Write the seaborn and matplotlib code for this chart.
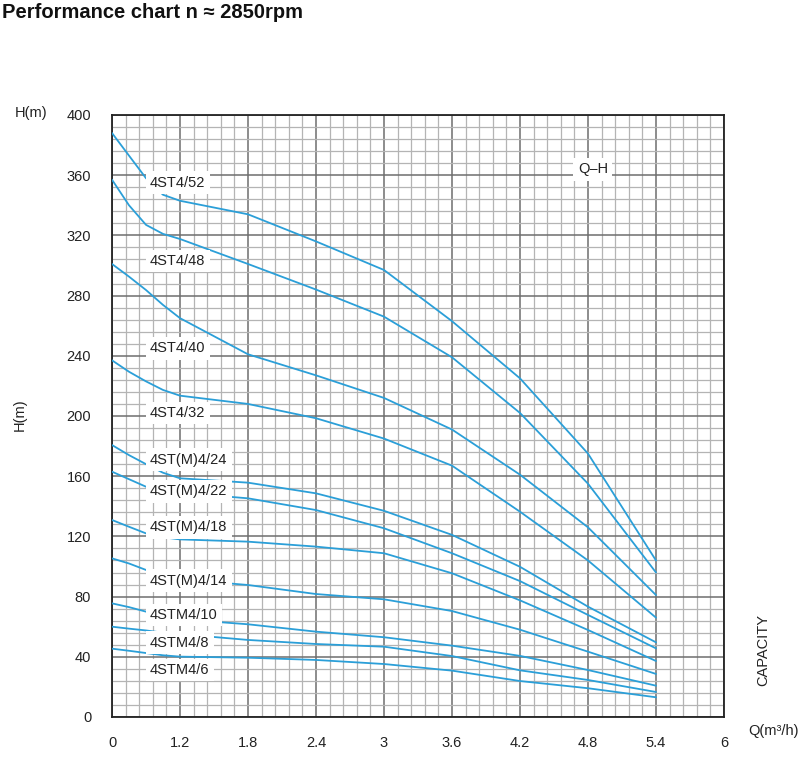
"""
Pump performance chart (Q-H curves), n ~ 2850 rpm
"""

import numpy as np
import pandas as pd
import matplotlib
matplotlib.use("Agg")
import matplotlib.pyplot as plt
from matplotlib.ticker import FixedLocator, MultipleLocator
import seaborn as sns

# ---- data ----
Q_TICKS = [0, 1.2, 1.8, 2.4, 3, 3.6, 4.2, 4.8, 5.4, 6]
Q_TICK_LABELS = ["0", "1.2", "1.8", "2.4", "3", "3.6", "4.2", "4.8", "5.4", "6"]

q = [0, 0.3, 0.6, 0.9, 1.2, 1.8, 2.4, 3.0, 3.6, 4.2, 4.8, 5.4]

h_4st4_52 = [388, 373, 358, 347, 343, 334, 316, 297, 263, 225, 175, 104]
h_4st4_48 = [357, 340, 327, 321, 317.6, 301, 284, 266, 239, 202, 155, 96]
h_4st4_40 = [301, 292.6, 283.7, 273.8, 265, 241, 227, 212, 191, 161, 126, 81]
h_4st4_32 = [237, 229.4, 223, 217.3, 213.5, 208, 198.5, 185, 167, 136.4, 104, 66]
h_4stm4_24 = [180.7, 174, 168, 162.3, 158.6, 155.7, 148.6, 137, 121, 99.8, 73.3, 49.6]
h_4stm4_22 = [163, 158, 153, 150.5, 149, 145.3, 137.5, 125.4, 108.8, 90.3, 67.8, 45.6]
h_4stm4_18 = [130.9, 126.4, 122, 119.4, 118, 116.5, 113.2, 108.8, 95.5, 77.5, 57.8, 37.2]
h_4stm4_14 = [105.4, 102, 97.7, 94, 91.5, 87.7, 81.7, 78.2, 70.4, 58, 43.4, 28.6]
h_4stm4_10 = [75.5, 73, 70, 67, 65, 61.6, 56.7, 53, 47.4, 40.6, 31.2, 20.8]
h_4stm4_8 = [60, 58.7, 57.5, 56, 55.1, 51.2, 48.5, 46.7, 40.5, 31, 24.6, 16.6]
h_4stm4_6 = [45.4, 44, 42.5, 41, 40.1, 39.4, 37.9, 35.2, 30.8, 23.9, 19.1, 13.1]

models = ["4ST4/52", "4ST4/48", "4ST4/40", "4ST4/32", "4ST(M)4/24", "4ST(M)4/22",
          "4ST(M)4/18", "4ST(M)4/14", "4STM4/10", "4STM4/8", "4STM4/6"]
heads = [h_4st4_52, h_4st4_48, h_4st4_40, h_4st4_32, h_4stm4_24, h_4stm4_22,
         h_4stm4_18, h_4stm4_14, h_4stm4_10, h_4stm4_8, h_4stm4_6]

# label anchors (Q, H) for each curve name
label_q = 0.67
label_h = [355, 303, 245, 202, 171, 150, 126, 90.6, 67.8, 49.4, 31.2]

CURVE_COLOR = "#2b9fd8"

# build long table for seaborn
rows = []
for name, h in zip(models, heads):
    for qq, hh in zip(q, h):
        rows.append({"model": name, "Q": qq, "H": hh})
df = pd.DataFrame(rows)

# ---- styling ----
sns.set_style("white")
plt.rcParams["font.family"] = ["Liberation Sans", "DejaVu Sans"]

fig = plt.figure(figsize=(8, 7.63), dpi=100)
ax = fig.add_axes([0.14, 0.0603, 0.765, 0.789])

# x axis is evenly spaced per tick, but first step spans 0..1.2
tick_pos = np.arange(len(Q_TICKS), dtype=float)


def fwd(x):
    return np.interp(x, Q_TICKS, tick_pos)


def inv(p):
    return np.interp(p, tick_pos, Q_TICKS)


ax.set_xscale("function", functions=(fwd, inv))

sns.lineplot(
    data=df, x="Q", y="H", hue="model", hue_order=models,
    palette=[CURVE_COLOR] * len(models), estimator=None, sort=False,
    legend=False, linewidth=1.3, ax=ax, zorder=3,
)

ax.set_xlim(0, 6)
ax.set_ylim(0, 400)

ax.xaxis.set_major_locator(FixedLocator(Q_TICKS))
ax.xaxis.set_minor_locator(FixedLocator(inv(np.arange(0, 9.01, 0.2))))
ax.set_xticklabels(Q_TICK_LABELS)
ax.yaxis.set_major_locator(MultipleLocator(40))
ax.yaxis.set_minor_locator(MultipleLocator(8))

ax.grid(which="minor", color="#b4b4b4", linewidth=0.9, zorder=0)
ax.grid(which="major", color="#6e6e6e", linewidth=1.1, zorder=0)
ax.set_axisbelow(True)

ax.tick_params(axis="y", which="major", length=12, width=1, color="#444444",
               pad=3, labelsize=10.5, labelcolor="#222222")
ax.tick_params(axis="x", which="major", length=0, pad=14, labelsize=10.5,
               labelcolor="#222222")
ax.tick_params(which="minor", length=0)

for s in ax.spines.values():
    s.set_color("#222222")
    s.set_linewidth(1.3)

ax.set_xlabel("")
ax.set_ylabel("")

box = dict(facecolor="white", edgecolor="none", boxstyle="square,pad=0.3")
for name, lh in zip(models, label_h):
    ax.text(label_q, lh, name, fontsize=10.5, ha="left", va="center",
            color="#222222", bbox=box, zorder=5)
ax.text(4.71, 364, "Q\u2013H", fontsize=10.5, ha="left", va="center",
        color="#222222", bbox=box, zorder=5)

# figure texts
fig.text(0.003, 0.983, "Performance chart n \u2248 2850rpm", fontsize=14.5,
         fontweight="bold", ha="left", va="center", color="#111111")
fig.text(0.019, 0.852, "H(m)", fontsize=10.5, ha="left", va="center",
         color="#222222")
fig.text(0.025, 0.456, "H(m)", fontsize=10.5, rotation=90, ha="center",
         va="center", color="#222222")
fig.text(0.954, 0.148, "CAPACITY", fontsize=10.5, rotation=90, ha="center",
         va="center", color="#222222")
fig.text(0.935, 0.042, "Q(m\u00b3/h)", fontsize=10.5, ha="left", va="center",
         color="#222222")

fig.savefig("out.png", dpi=100)
plt.close(fig)
